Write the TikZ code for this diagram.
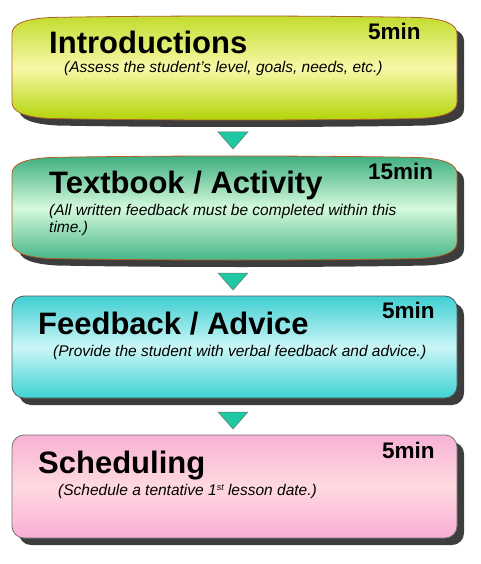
\documentclass[tikz,border=0pt]{standalone}
\usepackage{fontspec}
\setmainfont{Liberation Sans}

\definecolor{limetop}{HTML}{C2DC2C}
\definecolor{limemid}{HTML}{F8F8A8}
\definecolor{limebot}{HTML}{B2D306}
\definecolor{seatop}{HTML}{3DAE7E}
\definecolor{seamid}{HTML}{D4FADC}
\definecolor{seabot}{HTML}{45B587}
\definecolor{aquatop}{HTML}{3FCFD3}
\definecolor{aquamid}{HTML}{CBF6F6}
\definecolor{aquabot}{HTML}{3FD2D5}
\definecolor{pinktop}{HTML}{F7B2D5}
\definecolor{pinkmid}{HTML}{FFD9DF}
\definecolor{pinkbot}{HTML}{F8AED6}
\definecolor{rustline}{HTML}{B0602A}
\definecolor{stepgreen}{HTML}{1EC8A0}

% box with flattened, bulging top and bottom
\newcommand{\tapepath}[2]{(12,#1+18) .. controls (12,#1+8) and (24,#1+3) .. (50,#1+1.5)
  .. controls (150,#1-0.5) and (320,#1-0.5) .. (419,#1+1.5)
  .. controls (445,#1+3) and (457,#1+8) .. (457,#1+18) -- (457,#2-18)
  .. controls (457,#2-8) and (445,#2-3) .. (419,#2-1.5)
  .. controls (320,#2+0.5) and (150,#2+0.5) .. (50,#2-1.5)
  .. controls (24,#2-3) and (12,#2-8) .. (12,#2-18) -- cycle}

\begin{document}
\begin{tikzpicture}[x=1pt, y=-1pt,
    boxshadow/.style={fill=black!76, xshift=7pt, yshift=-7pt},
    headline/.style={anchor=base west, inner sep=0pt, font=\fontsize{31}{36}\selectfont\bfseries},
    duration/.style={anchor=base west, inner sep=0pt, font=\fontsize{22.5}{26}\selectfont\bfseries},
    remark/.style={anchor=base west, inner sep=0pt, font=\fontsize{15.5}{17.5}\selectfont\itshape},
    nextstep/.style={fill=stepgreen, draw=black!55, line width=0.5pt}]
  \useasboundingbox (0, 0) rectangle (480, 564);

  % 1. introductions
  \fill[boxshadow] \tapepath{16}{120};
  \draw[rustline, line width=0.8pt, top color=limetop, bottom color=limebot, middle color=limemid]
    \tapepath{16}{120};
  \node[headline] (intro) at (49, 54) {Introductions};
  \node[duration] (introtime) at (368, 40) {5min};
  \node[remark] (introtext) at (64, 73) {(Assess the student’s level, goals, needs, etc.)};

  % 2. textbook / activity
  \fill[boxshadow] \tapepath{156}{260};
  \draw[rustline, line width=0.8pt, top color=seatop, bottom color=seabot, middle color=seamid]
    \tapepath{156}{260};
  \node[headline] (textbook) at (49, 193) {Textbook / Activity};
  \node[duration] (textbooktime) at (368, 179) {15min};
  \node[remark, anchor=north west, align=left] (textbooktext) at (49, 203.7)
    {(All written feedback must be completed within this\\time.)};

  % 3. feedback / advice
  \fill[boxshadow, rounded corners=12pt] (12, 296) rectangle (457, 398);
  \draw[black!65, line width=0.8pt, top color=aquatop, bottom color=aquabot, middle color=aquamid,
    rounded corners=12pt] (12, 296) rectangle (457, 398);
  \node[headline] (feedback) at (38, 334) {Feedback / Advice};
  \node[duration] (feedbacktime) at (382, 318) {5min};
  \node[remark] (feedbacktext) at (53, 356) {(Provide the student with verbal feedback and advice.)};

  % 4. scheduling
  \fill[boxshadow, rounded corners=12pt] (12, 435) rectangle (457, 538);
  \draw[black!55, line width=0.8pt, top color=pinktop, bottom color=pinkbot, middle color=pinkmid,
    rounded corners=12pt] (12, 435) rectangle (457, 538);
  \node[headline] (scheduling) at (38, 473) {Scheduling};
  \node[duration] (schedulingtime) at (382, 458) {5min};
  \node[remark] (schedulingtext) at (58, 495)
    {(Schedule a tentative 1{\fontsize{9}{9}\selectfont\raisebox{5pt}{st}} lesson date.)};

  % markers between the steps
  \foreach \y in {132, 273, 412}
    \draw[nextstep] (218, \y) -- (248, \y) -- (233, \y+17) -- cycle;
\end{tikzpicture}
\end{document}
